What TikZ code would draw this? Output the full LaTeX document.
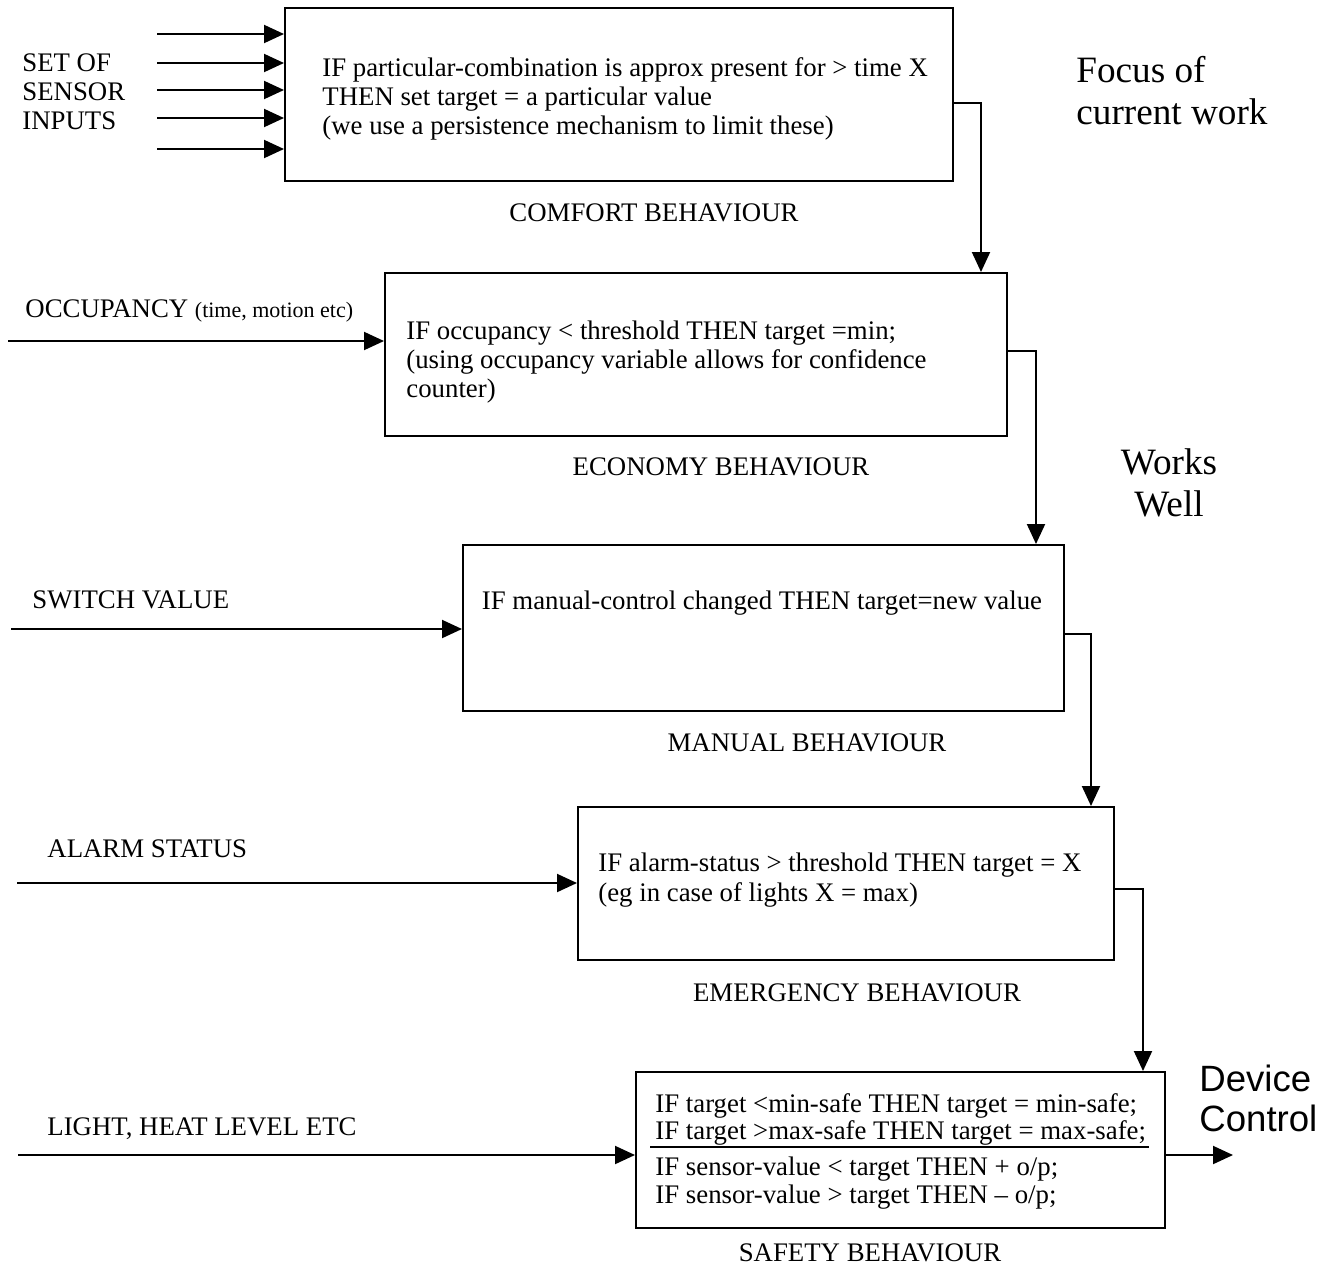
\documentclass[tikz,border=0pt]{standalone}
\usepackage{fontspec}
\setmainfont{Liberation Serif}
\newfontfamily\arialfont{Liberation Sans}
\usetikzlibrary{
  arrows.meta,
  fit,
  calc
}

\begin{document}
\begin{tikzpicture}[
  x=0.5pt, y=-0.5pt,
  box/.style={draw,line width=1pt,inner sep=0pt},
  rule/.style={font=\fontsize{13.4}{14.6}\selectfont,align=left,inner sep=0pt},
  tag/.style={font=\fontsize{13.4}{14.6}\selectfont,inner sep=0pt},
  note/.style={font=\fontsize{18.6}{21}\selectfont,align=left,inner sep=0pt},
  flow/.style={-{Triangle[length=10pt,width=9pt]},line width=1pt},
]
\useasboundingbox (0,0) rectangle (1334,1270);

% behaviour boxes
\node[box,fit={(285,8) (953,181)}]     (comfort)   {};
\node[box,fit={(385,273) (1007,436)}]  (economy)   {};
\node[box,fit={(463,545) (1064,711)}]  (manual)    {};
\node[box,fit={(578,807) (1114,960)}]  (emergency) {};
\node[box,fit={(636,1072) (1165,1228)}] (safety)   {};

% rules inside the boxes
\node[rule,anchor=west] (comfort-txt) at (322,99)
  {IF particular-combination is approx present for > time X\\
   THEN set target = a particular value\\
   (we use a persistence mechanism to limit these)};
\node[rule,anchor=west] (economy-txt) at (406,362)
  {IF occupancy < threshold THEN target =min;\\
   (using occupancy variable allows for confidence\\
   counter)};
\node[rule] (manual-txt) at (762,603)
  {IF manual-control changed THEN target=new value};
\node[rule,anchor=west] (emergency-txt) at (598,880)
  {IF alarm-status > threshold THEN target = X\\
   (eg in case of lights X = max)};
\node[rule,anchor=west,font=\fontsize{13.4}{13.5}\selectfont] (safety-top) at (655,1119)
  {IF target <min-safe THEN target = min-safe;\\
   IF target >max-safe THEN target = max-safe;};
\node[rule,anchor=west,font=\fontsize{13.4}{14}\selectfont] (safety-bot) at (655,1183)
  {IF sensor-value < target THEN + o/p;\\
   IF sensor-value > target THEN -- o/p;};
\draw[line width=1pt] ($(safety.north west)+(15,76)$) -- ($(safety.north east)+(-17,76)$);

% box names
\node[tag] (comfort-lbl)   at (654,213)  {COMFORT BEHAVIOUR};
\node[tag] (economy-lbl)   at (721,467)  {ECONOMY BEHAVIOUR};
\node[tag] (manual-lbl)    at (807,743)  {MANUAL BEHAVIOUR};
\node[tag] (emergency-lbl) at (857,993)  {EMERGENCY BEHAVIOUR};
\node[tag] (safety-lbl)    at (870,1253) {SAFETY BEHAVIOUR};

% inputs
\node[rule,anchor=west] (sensor-lbl) at (22,92) {SET OF\\SENSOR\\INPUTS};
\foreach \y [count=\i] in {34,63,90,118,149} {
  \coordinate (s\i) at (157,\y);
  \draw[flow] (s\i) -- (comfort.west |- s\i);
}
\node[tag,anchor=west] (occ-lbl) at (25,311)
  {OCCUPANCY {\fontsize{11}{12}\selectfont (time, motion etc)}};
\coordinate (occ) at (8,341);
\draw[flow] (occ) -- (economy.west |- occ);
\node[tag,anchor=west] (switch-lbl) at (32,600) {SWITCH VALUE};
\coordinate (switch) at (11,629);
\draw[flow] (switch) -- (manual.west |- switch);
\node[tag,anchor=west] (alarm-lbl) at (47,849) {ALARM STATUS};
\coordinate (alarm) at (17,883);
\draw[flow] (alarm) -- (emergency.west |- alarm);
\node[tag,anchor=west] (level-lbl) at (47,1129) {LIGHT, HEAT LEVEL ETC};
\coordinate (level) at (18,1155);
\draw[flow] (level) -- (safety.west |- level);

% chain of behaviours
\coordinate (c1) at (981,103);
\coordinate (c2) at (1036,351);
\coordinate (c3) at (1091,634);
\coordinate (c4) at (1143,889);
\draw[flow] (comfort.east |- c1)   -| (economy.north -| c1);
\draw[flow] (economy.east |- c2)   -| (manual.north -| c2);
\draw[flow] (manual.east |- c3)    -| (emergency.north -| c3);
\draw[flow] (emergency.east |- c4) -| (safety.north -| c4);

% output
\coordinate (out) at (1233,1155);
\draw[flow] (safety.east |- out) -- (out);
\node[anchor=west,align=left,inner sep=0pt,font=\arialfont\fontsize{18.3}{20}\selectfont]
  (device) at (1199,1098) {Device\\Control};

% side notes
\node[note,anchor=west] (focus) at (1076,91) {Focus of\\current work};
\node[note,align=center] (works) at (1169,483) {Works\\Well};
\end{tikzpicture}
\end{document}
